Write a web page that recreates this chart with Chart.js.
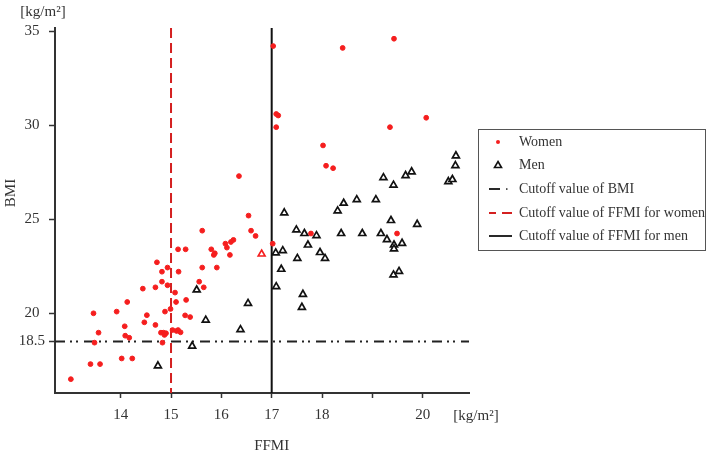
<!DOCTYPE html>
<html lang="en">
<head>
  <meta charset="UTF-8">
  <title>BMI vs FFMI</title>
  <script src="https://cdn.jsdelivr.net/npm/chart.js"></script>
  <style>
    body { margin: 0; background: #fff; }
    canvas { display: block; }
  </style>
</head>
<body>
  <canvas id="chart" width="709" height="457"></canvas>
  <script>
    // values
    const womenX = [13.01, 13.46, 13.48, 13.56, 13.40, 13.59, 13.92, 14.08, 14.09, 14.17, 14.13, 14.02, 14.23,
      14.44, 14.47, 14.52, 14.69, 14.69, 14.72, 14.80, 14.83, 14.82, 14.82, 14.85, 14.87, 14.90, 14.88, 14.93,
      14.93, 14.99, 15.03, 15.08, 15.10, 15.14, 15.14, 15.15, 15.19, 15.29, 15.30, 15.28, 15.38, 15.56, 15.65,
      15.62, 15.62, 15.80, 15.85, 15.87, 15.91, 16.08, 16.11, 16.17, 16.19, 16.24, 16.54, 16.59, 16.68, 17.02,
      16.35, 17.03, 17.09, 17.13, 17.09, 19.43, 18.41, 20.07, 19.35, 18.02, 18.08, 18.22, 17.78, 19.49, 15.11];
    const womenY = [16.5, 20.0, 18.44, 18.97, 17.3, 17.3, 20.09, 19.31, 18.81, 18.7, 20.6, 17.6, 17.6,
      21.31, 19.52, 19.9, 19.38, 21.38, 22.71, 18.97, 18.44, 22.21, 21.68, 18.97, 18.85, 18.94, 20.09, 22.43,
      21.49, 20.23, 19.11, 21.1, 20.6, 19.11, 23.40, 22.21, 18.99, 23.40, 20.71, 19.89, 19.80, 21.68, 21.38,
      22.43, 24.39, 23.40, 23.10, 23.19, 22.43, 23.70, 23.49, 23.10, 23.79, 23.90, 25.19, 24.39, 24.11, 23.70,
      27.29, 34.2, 30.59, 30.51, 29.89, 34.59, 34.1, 30.39, 29.89, 28.92, 27.84, 27.71, 24.24, 24.24, 19.06];
    // one woman drawn with a red triangle in the original
    const womenTriX = [16.80];
    const womenTriY = [23.15];

    const menX = [20.66, 20.65, 20.51, 20.59, 19.22, 19.42, 19.66, 19.78, 18.43, 18.31, 18.69, 19.07, 17.25,
      19.37, 19.89, 17.49, 17.65, 17.89, 18.38, 18.80, 19.17, 19.29, 19.43, 19.43, 19.59, 17.72, 17.08, 17.22,
      17.51, 17.96, 18.06, 17.19, 17.09, 19.42, 19.53, 17.62, 17.60, 15.51, 15.69, 15.42, 14.74, 16.38, 16.53];
    const menY = [28.37, 27.85, 27.0, 27.11, 27.21, 26.81, 27.32, 27.52, 25.85, 25.44, 26.04, 26.04, 25.34,
      24.93, 24.73, 24.43, 24.24, 24.13, 24.24, 24.24, 24.24, 23.92, 23.63, 23.42, 23.72, 23.63, 23.21, 23.33,
      22.92, 23.23, 22.92, 22.34, 21.42, 22.04, 22.23, 21.01, 20.32, 21.24, 19.64, 18.26, 17.21, 19.13, 20.53];

    const bmiCutoff = 18.5;
    const ffmiCutoffWomen = 15;
    const ffmiCutoffMen = 17;

    const xMin = 12.695, xMax = 20.92;
    const yMin = 15.765, yMax = 35.16;
    const xTicks = [14, 15, 16, 17, 18, 19, 20];
    const xTickLabels = ['14', '15', '16', '17', '18', '', '20'];
    const yTicks = [18.5, 20, 25, 30, 35];
    const yTickLabels = ['18.5', '20', '25', '30', '35'];

    const legendItems = ['Women', 'Men', 'Cutoff value of BMI', 'Cutoff value of FFMI for women', 'Cutoff value of FFMI for men'];

    const serif = '"Liberation Serif", "DejaVu Serif", serif';
    const toPoints = (xs, ys) => xs.map((x, i) => ({ x: x, y: ys[i] }));

    const extras = {
      id: 'extras',
      afterDraw(chart) {
        const ctx = chart.ctx;
        ctx.save();
        ctx.fillStyle = '#333';
        ctx.font = '15px ' + serif;
        ctx.textBaseline = 'middle';
        ctx.textAlign = 'center';
        ctx.fillText('[kg/m\u00B2]', 43, 12);
        ctx.fillText('[kg/m\u00B2]', 476, 416);
        ctx.fillText('FFMI', chart.scales.x.getPixelForValue(17), 446);
        ctx.translate(11, 193);
        ctx.rotate(-Math.PI / 2);
        ctx.fillText('BMI', 0, 0);
        ctx.restore();

        // legend box
        ctx.save();
        ctx.strokeStyle = '#555';
        ctx.lineWidth = 1;
        ctx.strokeRect(478.5, 129.5, 227, 121);
        ctx.font = '14px ' + serif;
        ctx.fillStyle = '#333';
        ctx.textBaseline = 'middle';
        ctx.textAlign = 'left';
        const rows = [142, 165, 189, 213, 236];
        legendItems.forEach((t, i) => ctx.fillText(t, 519, rows[i]));
        // markers
        ctx.fillStyle = '#f51e1e';
        ctx.beginPath(); ctx.arc(498, rows[0], 2, 0, Math.PI * 2); ctx.fill();
        ctx.strokeStyle = '#111'; ctx.lineWidth = 1.6;
        ctx.beginPath(); ctx.moveTo(498, rows[1] - 3.5); ctx.lineTo(501.5, rows[1] + 2.5); ctx.lineTo(494.5, rows[1] + 2.5); ctx.closePath(); ctx.stroke();
        ctx.lineWidth = 1.8;
        ctx.beginPath(); ctx.moveTo(489, rows[2]); ctx.lineTo(500, rows[2]); ctx.stroke();
        ctx.fillStyle = '#222'; ctx.fillRect(506, rows[2] - 0.7, 1.5, 1.5);
        ctx.strokeStyle = '#d42020'; ctx.lineWidth = 1.8;
        ctx.beginPath(); ctx.moveTo(489, rows[3]); ctx.lineTo(496, rows[3]); ctx.moveTo(502, rows[3]); ctx.lineTo(512, rows[3]); ctx.stroke();
        ctx.strokeStyle = '#111';
        ctx.beginPath(); ctx.moveTo(489, rows[4]); ctx.lineTo(512, rows[4]); ctx.stroke();
        ctx.restore();
      }
    };

    new Chart(document.getElementById('chart'), {
      type: 'scatter',
      data: {
        datasets: [
          {
            label: 'Women',
            data: toPoints(womenX, womenY),
            pointStyle: 'circle',
            pointRadius: 2.4,
            backgroundColor: '#f51e1e',
            borderColor: '#f51e1e',
            borderWidth: 1
          },
          {
            label: 'Women (triangle)',
            data: toPoints(womenTriX, womenTriY),
            pointStyle: 'triangle',
            pointRadius: 4,
            backgroundColor: '#fff',
            borderColor: '#f51e1e',
            borderWidth: 1.6
          },
          {
            label: 'Men',
            data: toPoints(menX, menY),
            pointStyle: 'triangle',
            pointRadius: 4,
            backgroundColor: '#fff',
            borderColor: '#111',
            borderWidth: 1.7
          },
          {
            type: 'line',
            label: 'Cutoff value of BMI',
            data: [{ x: xMin, y: bmiCutoff }, { x: xMax, y: bmiCutoff }],
            borderColor: '#222',
            borderWidth: 2,
            borderDash: [10, 5, 2, 4, 2, 6],
            pointRadius: 0,
            fill: false
          },
          {
            type: 'line',
            label: 'Cutoff value of FFMI for women',
            data: [{ x: ffmiCutoffWomen, y: yMax }, { x: ffmiCutoffWomen, y: yMin }],
            borderColor: '#d42020',
            borderWidth: 2,
            borderDash: [10, 5],
            pointRadius: 0,
            fill: false
          },
          {
            type: 'line',
            label: 'Cutoff value of FFMI for men',
            data: [{ x: ffmiCutoffMen, y: yMax }, { x: ffmiCutoffMen, y: yMin }],
            borderColor: '#111',
            borderWidth: 2,
            pointRadius: 0,
            fill: false
          }
        ]
      },
      options: {
        responsive: false,
        animation: false,
        layout: { padding: { top: 28, right: 240, left: 0, bottom: 0 } },
        plugins: {
          legend: { display: false },
          tooltip: { enabled: false }
        },
        scales: {
          x: {
            type: 'linear',
            min: xMin,
            max: xMax,
            afterFit: s => { s.height = 64; },
            afterBuildTicks: s => { s.ticks = xTicks.map(v => ({ value: v })); },
            border: { color: '#333', width: 2 },
            grid: { drawOnChartArea: false, tickLength: 5, color: '#333', tickWidth: 1.5 },
            ticks: {
              padding: 8,
              color: '#333',
              font: { family: serif, size: 15 },
              callback: v => xTickLabels[xTicks.indexOf(v)]
            }
          },
          y: {
            type: 'linear',
            min: yMin,
            max: yMax,
            afterFit: s => { s.width = 55; },
            afterBuildTicks: s => { s.ticks = yTicks.map(v => ({ value: v })); },
            border: { color: '#333', width: 2 },
            grid: { drawOnChartArea: false, tickLength: 6, color: '#333', tickWidth: 1.5 },
            ticks: {
              padding: 4,
              crossAlign: 'center',
              color: '#333',
              font: { family: serif, size: 15 },
              callback: v => yTickLabels[yTicks.indexOf(v)]
            }
          }
        }
      },
      plugins: [extras]
    });
  </script>
</body>
</html>
